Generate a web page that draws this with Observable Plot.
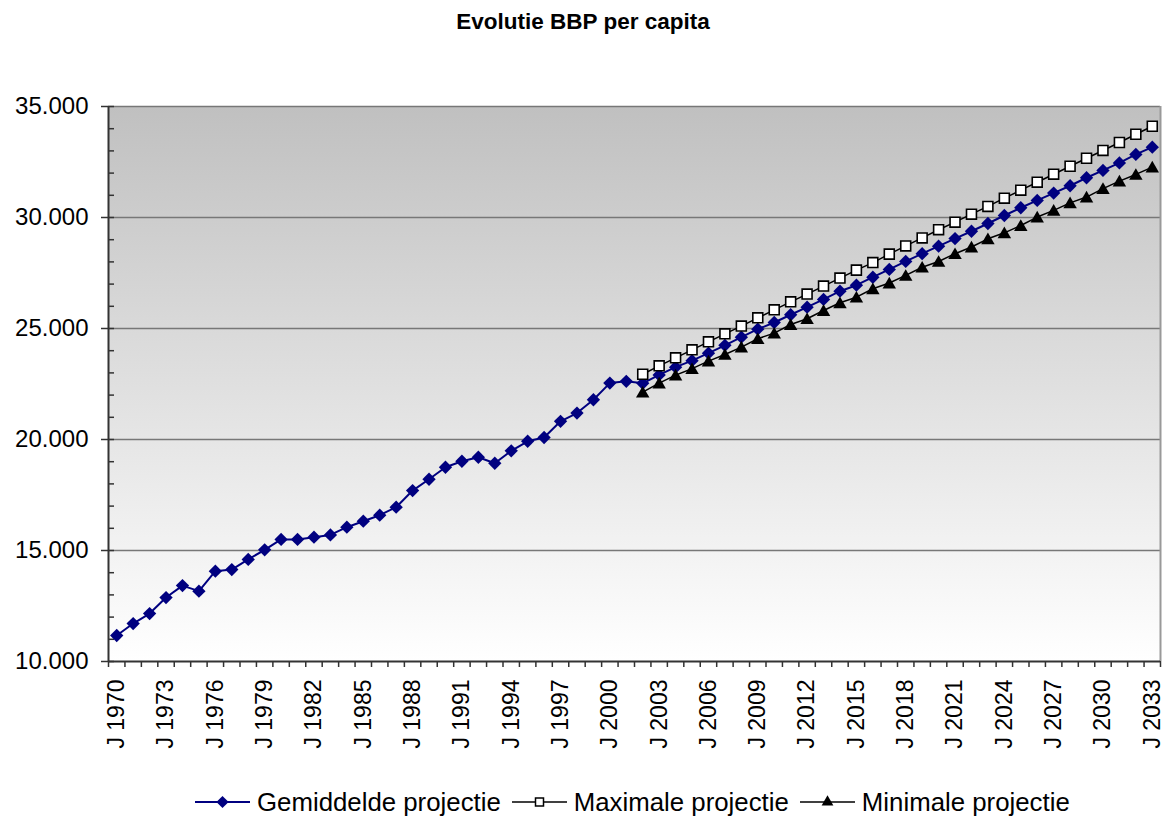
<!DOCTYPE html>
<html>
<head>
<meta charset="utf-8">
<script src="https://cdn.jsdelivr.net/npm/d3@7"></script>
<script src="https://cdn.jsdelivr.net/npm/@observablehq/plot@0.6"></script>
<style>
  body { margin: 0; background: #fff; font-family: "Liberation Sans", Arial, sans-serif; }
  #chart { position: relative; width: 1166px; height: 818px; overflow: hidden; }
  #title { height: 42px; line-height: 44px; text-align: center; font-weight: bold; font-size: 22.5px; color: #000; }
  #plot svg { display: block; }
  #legend { position: absolute; left: 195px; top: 786px; height: 32px; display: flex; align-items: center; font-size: 25.8px; color: #000; white-space: nowrap; }
  #legend .sw { display: block; margin-right: 7px; }
  #legend .lab { margin-right: 11px; }
</style>
</head>
<body>
<div id="chart">
  <div id="title">Evolutie BBP per capita</div>
  <div id="plot"></div>
  <div id="legend"></div>
</div>
<script>
// Years on the category axis
const years = d3.range(1970, 2034);
// Year labels shown under the axis (every third year)
const labelYears = d3.range(1970, 2034, 3);
// Y axis ticks
const majorTicks = [10000, 15000, 20000, 25000, 30000, 35000];
const minorTicks = d3.range(10000, 35001, 1000);

// Series names
const seriesNames = ["Gemiddelde projectie", "Maximale projectie", "Minimale projectie"];

// Average projection 1970–2033 (realised values up to 2001)
const meanValues = [
  11170, 11710, 12160, 12880, 13420, 13170, 14070, 14140, 14600, 15030,
  15500, 15500, 15600, 15700, 16050, 16320, 16590, 16950, 17700, 18210,
  18750, 19020, 19200, 18930, 19490, 19920, 20090, 20820, 21190, 21790,
  22540, 22620, 22530, 22910, 23260, 23550, 23890, 24240, 24610, 24970,
  25270, 25620, 25960, 26310, 26680, 26950, 27310, 27660, 28020, 28370,
  28710, 29050, 29380, 29730, 30090, 30440, 30770, 31100, 31430, 31790,
  32120, 32460, 32840, 33170
];
// Projection years for the high and low scenarios
const projYears = d3.range(2002, 2034);
// High projection 2002–2033
const maxValues = [
  22940, 23320, 23680, 24040, 24400, 24760, 25110, 25480, 25840, 26200,
  26550, 26910, 27270, 27630, 27970, 28350, 28720, 29080, 29450, 29790,
  30150, 30500, 30870, 31230, 31590, 31950, 32310, 32670, 33020, 33380,
  33750, 34110
];
// Low projection 2002–2033
const minValues = [
  22130, 22540, 22900, 23190, 23530, 23830, 24160, 24540, 24790, 25180,
  25440, 25810, 26160, 26410, 26790, 27050, 27390, 27760, 28020, 28370,
  28670, 29040, 29310, 29640, 30020, 30320, 30660, 30920, 31300, 31640,
  31940, 32270
];

const meanRows = years.map((year, i) => ({year, value: meanValues[i]}));
const maxRows = projYears.map((year, i) => ({year, value: maxValues[i]}));
const minRows = projYears.map((year, i) => ({year, value: minValues[i]}));

// Category boundaries (ticks sit between the years)
const xLo = d3.min(years) - 0.5;
const xHi = d3.max(years) + 0.5;
const boundaries = d3.range(xLo, xHi + 0.01, 1);

const nl = d3.formatLocale({decimal: ",", thousands: ".", grouping: [3], currency: ["€", ""]});
const fmt = nl.format(",.0f");

const MEAN = "#000080";
const AXIS = "#333";

const chart = Plot.plot({
  width: 1166,
  height: 740,
  marginTop: 64,
  marginBottom: 121,
  marginLeft: 108,
  marginRight: 6,
  style: {fontFamily: "Liberation Sans, Arial, sans-serif", background: "transparent", color: "#000"},
  x: {type: "linear", domain: [xLo, xHi], label: null},
  y: {domain: [10000, 35000], label: null},
  marks: [
    Plot.frame({fill: "url(#plotBg)", stroke: null}),
    Plot.ruleY(majorTicks.filter(d => d > 10000), {stroke: "#777", strokeWidth: 1.5}),
    Plot.ruleX([xHi], {stroke: "#999", strokeWidth: 2}),
    Plot.ruleX([xLo], {stroke: AXIS, strokeWidth: 2}),
    Plot.ruleY([10000], {stroke: AXIS, strokeWidth: 2}),
    Plot.axisY({ticks: majorTicks, tickSize: 7, tickPadding: 13, tickFormat: fmt, fontSize: 24, stroke: AXIS, strokeWidth: 1.5, label: null}),
    Plot.axisY({ticks: minorTicks, tickSize: 6, dx: 6, text: null, stroke: AXIS, strokeWidth: 1.5, label: null}),
    Plot.axisX({ticks: boundaries, tickSize: 6, text: null, stroke: AXIS, strokeWidth: 1.5, label: null}),
    Plot.axisX({ticks: labelYears, tickSize: 0, tickPadding: 18, tickRotate: -90, tickFormat: d => "J " + d, fontSize: 23, label: null}),
    Plot.line(meanRows, {x: "year", y: "value", stroke: MEAN, strokeWidth: 2}),
    Plot.dot(meanRows, {x: "year", y: "value", symbol: "diamond2", r: 6, fill: MEAN, stroke: "none"}),
    Plot.line(maxRows, {x: "year", y: "value", stroke: "#000", strokeWidth: 1.5}),
    Plot.dot(maxRows, {x: "year", y: "value", symbol: "square", r: 5.6, fill: "#fff", stroke: "#000", strokeWidth: 1.6}),
    Plot.line(minRows, {x: "year", y: "value", stroke: "#000", strokeWidth: 1.5}),
    Plot.dot(minRows, {x: "year", y: "value", symbol: "triangle", r: 5, fill: "#000", stroke: "none", dy: 1.5})
  ]
});

// Plot-area background: grey at the top fading to white at the bottom
const grad = d3.select(chart).insert("defs", ":first-child")
  .append("linearGradient").attr("id", "plotBg")
  .attr("x1", 0).attr("y1", 0).attr("x2", 0).attr("y2", 1);
grad.append("stop").attr("offset", "0%").attr("stop-color", "#c0c0c0");
grad.append("stop").attr("offset", "100%").attr("stop-color", "#ffffff");

document.getElementById("plot").appendChild(chart);

// Legend
const legendStyles = [
  {stroke: MEAN, width: 2, symbol: d3.symbolDiamond2, size: Math.PI * 5.5 * 5.5, fill: MEAN, mstroke: "none"},
  {stroke: "#000", width: 1.5, symbol: d3.symbolSquare, size: 64, fill: "#fff", mstroke: "#000"},
  {stroke: "#000", width: 1.5, symbol: d3.symbolTriangle, size: 60, fill: "#000", mstroke: "none"}
];
const legend = d3.select("#legend");
seriesNames.forEach((name, i) => {
  const s = legendStyles[i];
  const svg = legend.append("svg").attr("class", "sw").attr("width", 55).attr("height", 20);
  svg.append("line").attr("x1", 0).attr("x2", 55).attr("y1", 10).attr("y2", 10)
    .attr("stroke", s.stroke).attr("stroke-width", s.width);
  svg.append("path").attr("d", d3.symbol(s.symbol, s.size)())
    .attr("transform", "translate(27.5,10)")
    .attr("fill", s.fill).attr("stroke", s.mstroke).attr("stroke-width", 1.5);
  legend.append("span").attr("class", "lab").text(name);
});
</script>
</body>
</html>
